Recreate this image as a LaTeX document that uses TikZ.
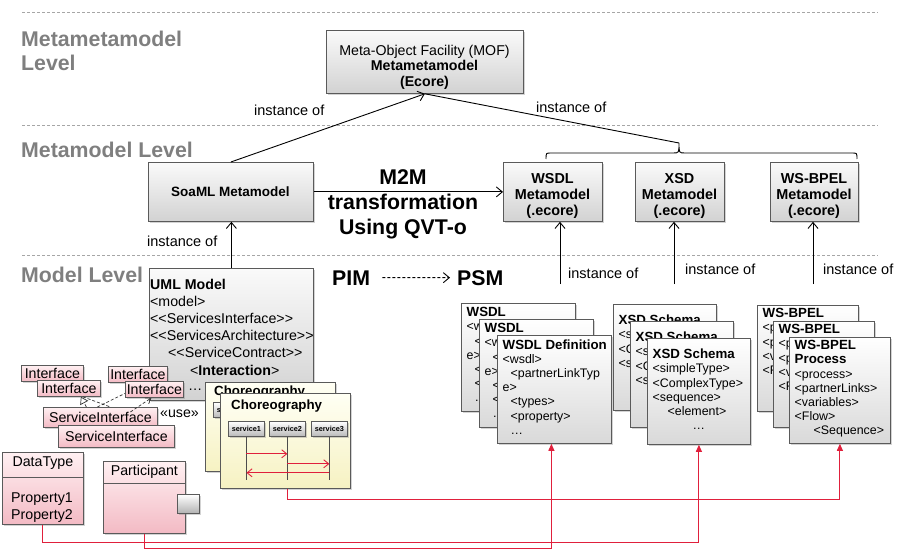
\documentclass[tikz,border=0pt]{standalone}
\usepackage{fontspec}
\setmainfont{Liberation Sans}
\usetikzlibrary{arrows.meta,shadows,calc}
\definecolor{lvlgray}{HTML}{7F7F7F}
\definecolor{dashgray}{HTML}{A6A6A6}
\definecolor{bordergray}{HTML}{5A5A5A}
\definecolor{redline}{HTML}{E0203C}
\definecolor{graytop}{HTML}{FAFAFA}
\definecolor{graybot}{HTML}{D2D2D2}
\definecolor{docbot}{HTML}{D9D9D9}
\definecolor{pinktop}{HTML}{FFF0F2}
\definecolor{pinkbot}{HTML}{F3BAC4}
\definecolor{yeltop}{HTML}{FFFFF4}
\definecolor{yelbot}{HTML}{F6F2C2}
\newcommand\myLL{<\kern0pt<}
\newcommand\myGG{>\kern0pt>}
\newcommand\dtitle[1]{{\fontsize{13.3}{14.2}\selectfont\bfseries #1}}
\newcommand\docnode[7]{%
  \node[docbox, minimum width=#4, minimum height=#5] (#1) at (#2,#3) {};
  \node[doctext] (#1t) at ($(#1.north west)+(5.5,#6)$) {#7};}
\begin{document}
\begin{tikzpicture}[x=1pt,y=-1pt,
  lvl/.style={font=\fontsize{21.3}{24}\selectfont\bfseries, text=lvlgray, inner sep=0, align=left},
  lvlline/.style={draw=dashgray, line width=0.9pt, dash pattern=on 3pt off 2pt},
  gbox/.style={draw=bordergray, line width=0.8pt, top color=graytop, bottom color=graybot, inner sep=0, anchor=north west, drop shadow={shadow xshift=1.5pt, shadow yshift=-1.5pt, opacity=0.35}},
  pbox/.style={gbox, top color=pinktop, bottom color=pinkbot},
  ybox/.style={gbox, top color=yeltop, bottom color=yelbot},
  docbox/.style={gbox, top color=white, bottom color=docbot},
  doctext/.style={anchor=north west, inner sep=0, align=left, font=\fontsize{12.4}{14.2}\selectfont},
  mmtext/.style={inner sep=0, align=center, font=\fontsize{14.4}{16}\selectfont\bfseries},
  inst/.style={font=\fontsize{14.5}{17}\selectfont, anchor=base west, inner sep=0},
  big/.style={font=\fontsize{21.3}{25}\selectfont\bfseries, inner sep=0},
  ifs/.style={font=\fontsize{14.2}{16}\selectfont},
  ctitle/.style={font=\fontsize{13.3}{15}\selectfont\bfseries, inner sep=0, anchor=base west},
  head/.style={gbox, top color=white, bottom color=gray!55, minimum width=36, minimum height=15, font=\fontsize{7.3}{8}\selectfont\bfseries, drop shadow={shadow xshift=1pt, shadow yshift=-1pt, opacity=0.3}},
  conn/.style={draw=black, line width=0.9pt},
  oarrow/.style={conn, -{Straight Barb[length=6pt,width=10pt]}},
  redc/.style={draw=redline, line width=1pt, -{Triangle[length=7pt,width=6pt]}},
  msg/.style={draw=redline, line width=0.9pt, -{Straight Barb[length=5pt,width=8pt]}},
  life/.style={draw=black!70, line width=0.7pt},
  dep/.style={draw=black!80, line width=0.7pt, dash pattern=on 3pt off 2pt}
]
\useasboundingbox (0,0) rectangle (910,556);

% level separators
\coordinate (d1a) at (22,12);  \coordinate (d1b) at (878,12);
\coordinate (d2a) at (22,125); \coordinate (d2b) at (878,125);
\coordinate (d3a) at (22,255); \coordinate (d3b) at (878,255);
\draw[lvlline] (d1a) -- (d1b);
\draw[lvlline] (d2a) -- (d2b);
\draw[lvlline] (d3a) -- (d3b);

% level labels
\node[lvl, anchor=north west] (lv1) at (21,31) {Metametamodel\\Level};
\node[lvl, anchor=base west] (lv2) at (21,158) {Metamodel Level};
\node[lvl, anchor=base west] (lv3) at (21,282.5) {Model Level};

% metametamodel
\node[gbox, minimum width=197, minimum height=63] (mof) at (326,30) {};
\node[inner sep=0, align=center, font=\fontsize{14.2}{15.5}\selectfont] (moft) at (424.5,67) {Meta-Object Facility (MOF)\\\textbf{Metametamodel}\\\textbf{(Ecore)}};

% metamodels
\node[gbox, minimum width=165, minimum height=59] (soaml) at (148,162) {};
\node[inner sep=0, font=\fontsize{13.5}{16}\selectfont\bfseries] (soamlt) at (230.5,192) {SoaML Metamodel};
\node[gbox, minimum width=99, minimum height=59] (wsdlmm) at (503,162) {};
\node[mmtext] (wsdlmmt) at (552.5,195.5) {WSDL\\Metamodel\\(.ecore)};
\node[gbox, minimum width=89, minimum height=59] (xsdmm) at (635,162) {};
\node[mmtext] (xsdmmt) at (679.5,195.5) {XSD\\Metamodel\\(.ecore)};
\node[gbox, minimum width=88, minimum height=59] (bpelmm) at (770,162) {};
\node[mmtext] (bpelmmt) at (814,195.5) {WS-BPEL\\Metamodel\\(.ecore)};

% instance-of to MOF
\draw[oarrow] (soaml.north) -- (mof.south);
\coordinate (bl) at (546,159);
\coordinate (br) at (857,159);
\coordinate (bpeak) at (679,143);
\draw[conn] (bl) .. controls (546,153) .. (551,153) -- (673,153) .. controls (679,153) .. (bpeak) .. controls (679,153) .. (685,153) -- (852,153) .. controls (857,153) .. (br);
\draw[conn] (bpeak) -- (mof.south);
\node[inst] (i1) at (254,116) {instance of};
\node[inst] (i2) at (536,113) {instance of};

% M2M
\draw[oarrow] (soaml.east) -- (wsdlmm.west);
\node[big, align=center, anchor=north] (m2m) at (403,169.7) {M2M\\transformation\\Using QVT-o};

% model level
\node[big, anchor=base west] (pim) at (332,285) {PIM};
\node[big, anchor=base west] (psm) at (457,285) {PSM};
\draw[conn, dash pattern=on 3pt off 2pt, shorten <=12pt, shorten >=7pt, -{Straight Barb[length=6pt,width=10pt]}] (pim.east) -- (psm.west);

% UML model
\node[gbox, minimum width=164, minimum height=132] (uml) at (149,268) {};
\node[anchor=north west, inner sep=0, align=left, font=\fontsize{14.2}{17.2}\selectfont] (umlt) at (150,278.6) {\textbf{UML Model}\\<model>\\\myLL ServicesInterface\myGG\\\myLL ServicesArchitecture\myGG\\\hspace*{18pt}\myLL ServiceContract\myGG\\\hspace*{40pt}<\textbf{Interaction}>};
\draw[oarrow] (uml.north) -- (uml.north |- soaml.south);
\node[inst] (i3) at (147,247) {instance of};

% instance-of to PSM metamodels
\coordinate (w0) at (560,284);
\coordinate (x0) at (674,284);
\coordinate (b0) at (813,284);
\draw[oarrow] (w0) -- (w0 |- wsdlmm.south);
\draw[oarrow] (x0) -- (x0 |- xsdmm.south);
\draw[oarrow] (b0) -- (b0 |- bpelmm.south);
\node[inst] (i4) at (568,278) {instance of};
\node[inst] (i5) at (685,274) {instance of};
\node[inst] (i6) at (823,274) {instance of};

% choreographies
\node[ybox, minimum width=130, minimum height=89] (chorB) at (205,382) {};
\node[ctitle] (chorBt) at (214,395) {Choreography};
\node[head] (hB) at (213,402) {service1};
\node[ybox, minimum width=130, minimum height=95] (chorF) at (220,393) {};
\node[ctitle] (chorFt) at (231,409) {Choreography};
\node[head] (s1) at (228,421) {service1};
\node[head] (s2) at (269,421) {service2};
\node[head] (s3) at (311,421) {service3};
\coordinate (e1) at ($(s1.south)+(0,43)$);
\coordinate (e2) at ($(s2.south)+(0,43)$);
\coordinate (e3) at ($(s3.south)+(0,43)$);
\draw[life] (s1.south) -- (e1);
\draw[life] (s2.south) -- (e2);
\draw[life] (s3.south) -- (e3);
\coordinate (m1a) at ($(s1.south)+(0,17)$); \coordinate (m1b) at ($(s2.south)+(0,17)$);
\coordinate (m2a) at ($(s2.south)+(0,27)$); \coordinate (m2b) at ($(s3.south)+(0,27)$);
\coordinate (m3a) at ($(s3.south)+(0,36)$); \coordinate (m3b) at ($(s1.south)+(0,36)$);
\draw[msg] (m1a) -- (m1b);
\draw[msg] (m2a) -- (m2b);
\draw[msg] (m3a) -- (m3b);

% interfaces
\node[pbox, ifs, minimum width=62, minimum height=16] (ifA) at (21,365) {Interface};
\node[pbox, ifs, minimum width=63, minimum height=16] (ifB) at (37,380) {Interface};
\node[pbox, ifs, minimum width=59, minimum height=16] (ifC) at (108,366) {Interface};
\node[pbox, ifs, minimum width=58, minimum height=16] (ifD) at (125,381) {Interface};
\node[ifs, anchor=west, inner sep=0] (dots) at ([xshift=4pt]ifD.east) {…};
\node[pbox, ifs, minimum width=114, minimum height=20] (siA) at (43,407) {ServiceInterface};
\draw[dep, -{Triangle[open,length=7pt,width=9pt]}] ([xshift=-14pt]siA.north) -- ([xshift=12pt]ifB.south);
\draw[dep] ([xshift=14pt]ifB.south) -- ([xshift=10pt]siA.north);
\draw[dep] ([xshift=-3pt]siA.north) -- ([yshift=-4pt]ifD.west);
\draw[dep, -{Straight Barb[length=5pt,width=7pt]}] ([xshift=30pt,yshift=-5pt]siA.north) -- ([xshift=-3pt]ifD.south);
\node[pbox, ifs, minimum width=116, minimum height=22] (siB) at (58,425) {ServiceInterface};
\node[ifs, anchor=base west, inner sep=0] (use) at (160,417) {«use»};

% DataType and Participant
\node[pbox, minimum width=81, minimum height=72] (dt) at (2,452) {};
\draw[draw=bordergray, line width=0.8pt] ($(dt.north west)+(0,25)$) -- ($(dt.north east)+(0,25)$);
\node[ifs, anchor=base, inner sep=0] (dtt) at ($(dt.north)+(0,14)$) {DataType};
\node[ifs, anchor=base west, inner sep=0] (p1) at (11,502) {Property1};
\node[ifs, anchor=base west, inner sep=0] (p2) at (11,519) {Property2};
\node[pbox, minimum width=82, minimum height=72] (part) at (103,461) {};
\draw[draw=bordergray, line width=0.8pt] ($(part.north west)+(0,22)$) -- ($(part.north east)+(0,22)$);
\node[ifs, anchor=base, inner sep=0] (partt) at ($(part.north)+(0,14)$) {Participant};
\node[gbox, top color=white, bottom color=gray!60, minimum width=22, minimum height=19] (port) at (177,494) {};

% PSM documents
\docnode{wsdlB}{461}{303}{114}{108}{4.3}{\dtitle{WSDL}\\<wsdl>\\\hspace*{8pt}<partnerLinkTyp\\e>\\\hspace*{8pt}<types>\\\hspace*{8pt}<property>\\\hspace*{8pt}…}
\docnode{wsdlM}{479}{319}{114}{108}{4.3}{\dtitle{WSDL}\\<wsdl>\\\hspace*{8pt}<partnerLinkTyp\\e>\\\hspace*{8pt}<types>\\\hspace*{8pt}<property>\\\hspace*{8pt}…}
\docnode{wsdlF}{497}{335}{114}{108}{4.3}{\dtitle{WSDL Definition}\\<wsdl>\\\hspace*{8pt}<partnerLinkTyp\\e>\\\hspace*{8pt}<types>\\\hspace*{8pt}<property>\\\hspace*{8pt}…}

\docnode{xsdB}{613}{304}{103}{106}{10.8}{\dtitle{XSD Schema}\\<simpleType>\\<ComplexType>\\<sequence>\\\hspace*{15pt}<element>\\\hspace*{40pt}…}
\docnode{xsdM}{630}{321}{103}{106}{10.8}{\dtitle{XSD Schema}\\<simpleType>\\<ComplexType>\\<sequence>\\\hspace*{15pt}<element>\\\hspace*{40pt}…}
\docnode{xsdF}{647}{338}{103}{106}{10.8}{\dtitle{XSD Schema}\\<simpleType>\\<ComplexType>\\<sequence>\\\hspace*{15pt}<element>\\\hspace*{40pt}…}

\docnode{bpelB}{757}{305}{101}{106}{3.3}{\dtitle{WS-BPEL}\\<process>\\<partnerLinks>\\<variables>\\<Flow>\\\hspace*{19pt}<Sequence>}
\docnode{bpelM}{773}{321}{101}{106}{3.3}{\dtitle{WS-BPEL}\\<process>\\<partnerLinks>\\<variables>\\<Flow>\\\hspace*{19pt}<Sequence>}
\docnode{bpelF}{789}{337}{101}{106}{3.3}{\dtitle{WS-BPEL}\\\dtitle{Process}\\<process>\\<partnerLinks>\\<variables>\\<Flow>\\\hspace*{19pt}<Sequence>}

% traceability links
\draw[redc] (s2.south |- chorF.south) -- ++(0,11) -| (bpelF.south);
\draw[redc] (dt.south) -- ++(0,18) -| (xsdF.south);
\draw[redc] (part.south) -- ++(0,15) -| ([xshift=-3pt]wsdlF.south);
\end{tikzpicture}
\end{document}
